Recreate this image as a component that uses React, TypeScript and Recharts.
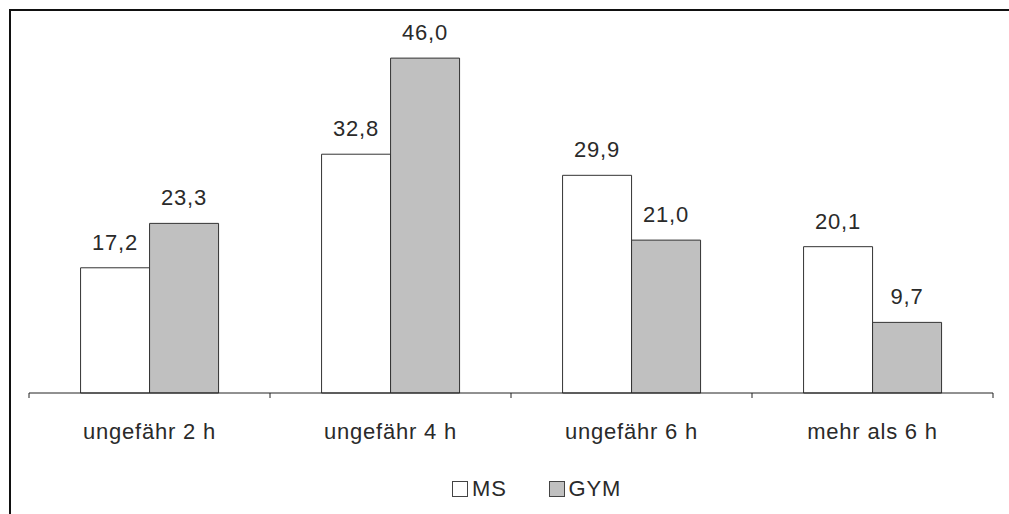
import { BarChart, Bar, XAxis, YAxis, Legend, LabelList } from "recharts";

const categories = ["ungefähr 2 h", "ungefähr 4 h", "ungefähr 6 h", "mehr als 6 h"];
const msValues = [17.2, 32.8, 29.9, 20.1];
const gymValues = [23.3, 46.0, 21.0, 9.7];

const W = 1009;
const H = 514;
const M = { top: 29, right: 16, left: 29, bottom: 31 };
const HALF_BAND = (W - M.left - M.right) / categories.length / 2;
const FONT = "'Liberation Sans', Arial, sans-serif";
const TEXT = "#2a2a2a";
const FS = 22;
const LS = 0.8;

const data = categories.map((c, i) => ({ cat: c, ms: msValues[i], gym: gymValues[i] }));

const fmt = (v: any) => Number(v).toFixed(1).replace(".", ",");

function CatTick(props: any) {
  const { x, y, payload, index } = props;
  return (
    <g>
      <line x1={x - HALF_BAND} x2={x - HALF_BAND} y1={y} y2={y + 5} stroke="#222" />
      {index === categories.length - 1 && (
        <line x1={x + HALF_BAND} x2={x + HALF_BAND} y1={y} y2={y + 5} stroke="#222" />
      )}
      <text
        x={x}
        y={y + 46}
        textAnchor="middle"
        fontSize={FS}
        letterSpacing={LS}
        fontFamily={FONT}
        fill={TEXT}
      >
        {payload.value}
      </text>
    </g>
  );
}

function LegendBox() {
  const items = [
    { name: "MS", fill: "#ffffff" },
    { name: "GYM", fill: "#c0c0c0" },
  ];
  return (
    <div style={{ display: "flex", height: 30, alignItems: "center", fontFamily: FONT }}>
      {items.map((it, i) => (
        <div key={it.name} style={{ display: "flex", alignItems: "center", marginRight: i === 0 ? 42 : 0 }}>
          <span
            style={{
              width: 14,
              height: 14,
              background: it.fill,
              border: "1px solid #444",
              marginRight: 4,
              display: "inline-block",
            }}
          />
          <span style={{ fontSize: FS, letterSpacing: LS, color: TEXT }}>{it.name}</span>
        </div>
      ))}
    </div>
  );
}

export default function App() {
  return (
    <div style={{ position: "absolute", left: 0, top: 0, width: W, height: H, overflow: "hidden", background: "#fff" }}>
      <div
        style={{
          position: "absolute",
          left: 9,
          top: 9,
          width: 1020,
          height: 530,
          borderTop: "2px solid #111",
          borderLeft: "2px solid #111",
        }}
      />
      <div style={{ position: "absolute", left: 0, top: 0 }}>
        <BarChart width={W} height={H} data={data} margin={M} barCategoryGap="21.4%" barGap={0}>
          <XAxis
            dataKey="cat"
            height={60}
            axisLine={{ stroke: "#222" }}
            tickLine={false}
            tickSize={0}
            tickMargin={0}
            tick={<CatTick />}
            interval={0}
          />
          <YAxis hide domain={[0, 50]} />
          <Legend
            content={<LegendBox />}
            verticalAlign="bottom"
            wrapperStyle={{ left: 452, top: 474, width: "auto" }}
          />
          <Bar dataKey="ms" name="MS" fill="#ffffff" stroke="#333" strokeWidth={1} isAnimationActive={false}>
            <LabelList dataKey="ms" position="top" offset={18} formatter={fmt} fontSize={FS} letterSpacing={LS} fontFamily={FONT} fill={TEXT} />
          </Bar>
          <Bar dataKey="gym" name="GYM" fill="#c0c0c0" stroke="#333" strokeWidth={1} isAnimationActive={false}>
            <LabelList dataKey="gym" position="top" offset={18} formatter={fmt} fontSize={FS} letterSpacing={LS} fontFamily={FONT} fill={TEXT} />
          </Bar>
        </BarChart>
      </div>
    </div>
  );
}
